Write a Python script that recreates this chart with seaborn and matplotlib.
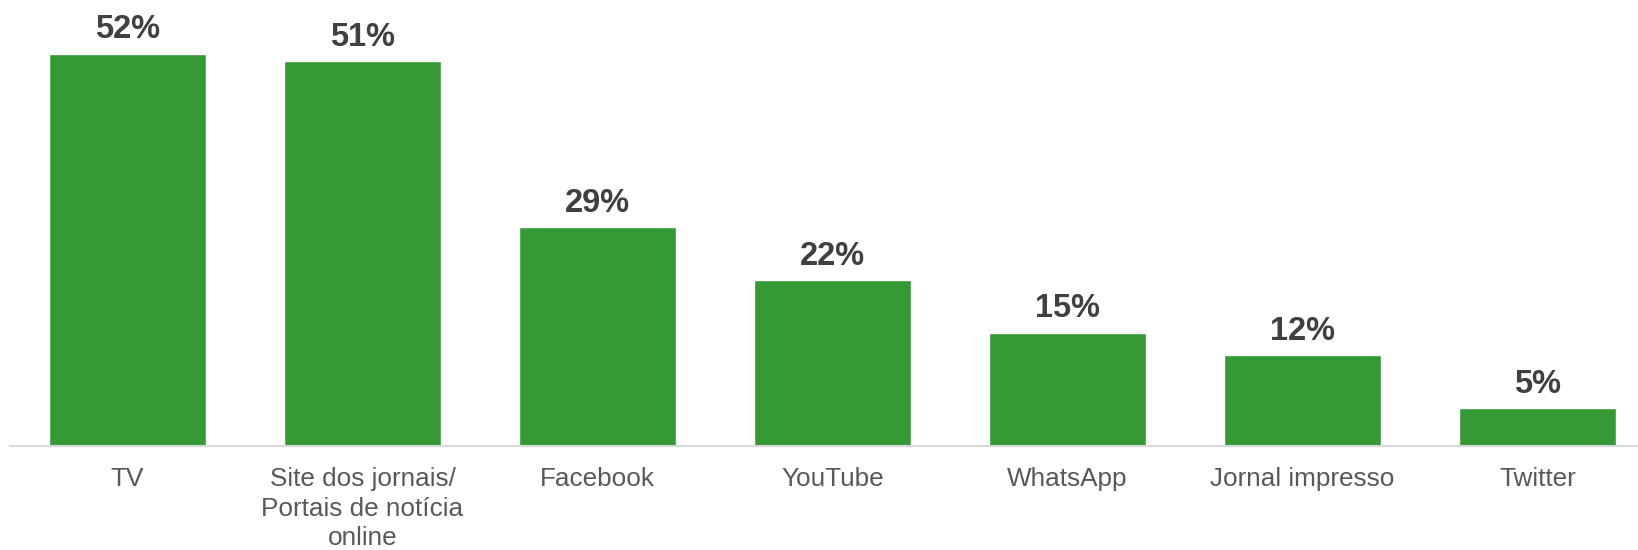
import matplotlib
matplotlib.use("Agg")
import matplotlib.pyplot as plt
import seaborn as sns
import pandas as pd

# dados
categorias = ["TV", "Site dos jornais/\nPortais de notícia\nonline", "Facebook",
              "YouTube", "WhatsApp", "Jornal impresso", "Twitter"]
valores = [52, 51, 29, 22, 15, 12, 5]

sns.set_style("white")
plt.rcParams['font.family'] = ['Liberation Sans', 'DejaVu Sans']

df = pd.DataFrame({"canal": categorias, "pct": valores})

fig = plt.figure(figsize=(16.38, 5.5), dpi=100)
# eixo um pouco mais largo que a figura, como no original
ax = fig.add_axes([10 / 1638, 104 / 550, 7 * 235 / 1638, 446 / 550])

sns.barplot(data=df, x="canal", y="pct", color="#359935", saturation=1,
            width=0.668, ax=ax)

ax.set_xlim(-0.5, 6.5)
ax.set_ylim(0, 59.1)

# rótulos em cima das barras
for cont in ax.containers:
    ax.bar_label(cont, labels=[f"{v}%" for v in valores], padding=6,
                 fontsize=23.5, fontweight="bold", color="#404040")

ax.set_xlabel("")
ax.set_ylabel("")
ax.set_yticks([])
ax.tick_params(axis="x", length=0, pad=15, labelsize=18.8, labelcolor="#595959")
for lbl in ax.get_xticklabels():
    lbl.set_linespacing(1.3)

for lado in ["top", "right", "left"]:
    ax.spines[lado].set_visible(False)
ax.spines["bottom"].set_color("#d9d9d9")
ax.spines["bottom"].set_linewidth(1.5)

fig.savefig("out.png", dpi=100)
